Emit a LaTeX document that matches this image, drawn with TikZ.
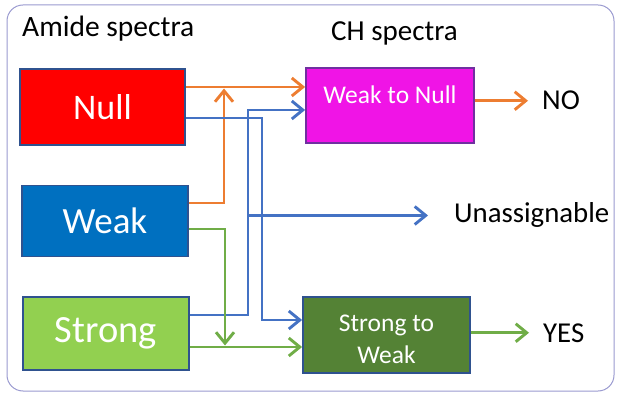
\documentclass[tikz,border=0pt]{standalone}
\usepackage{fontspec}
\setmainfont{Carlito}
\usetikzlibrary{arrows.meta}
\definecolor{nullred}{HTML}{FF0000}
\definecolor{weakblue}{HTML}{0070C0}
\definecolor{stronggreen}{HTML}{92D050}
\definecolor{wtnmagenta}{HTML}{F014E6}
\definecolor{stwgreen}{HTML}{548235}
\definecolor{boxedge}{HTML}{2F528F}
\definecolor{wtnedge}{HTML}{7030A0}
\definecolor{orangeln}{HTML}{ED7D31}
\definecolor{blueln}{HTML}{4472C4}
\definecolor{greenln}{HTML}{70AD47}
\definecolor{framecol}{HTML}{9A9AD0}
\tikzset{
	spectbox/.style={draw=#1, line width=1.8pt, text=white, inner sep=0pt},
	flow/.style={line width=2.9pt, -{Straight Barb[length=11pt,width=18pt]}},
	outcome/.style={anchor=base west, inner sep=0pt, font=\fontsize{28.8}{30}\selectfont},
}

\begin{document}
\begin{tikzpicture}[x=1pt,y=1pt]
				\useasboundingbox (0,0) rectangle (617,393);
				\draw[framecol, line width=1pt, rounded corners=16pt] (7,2) rectangle (614,388);
				
				\node[anchor=base west, inner sep=0pt, font=\fontsize{29.5}{30}\selectfont] (amide) at (22,356) {Amide spectra};
				\node[anchor=base west, inner sep=0pt, font=\fontsize{29}{30}\selectfont] (ch) at (331,352) {CH spectra};
				
				\node[spectbox=boxedge, fill=nullred, minimum width=165pt, minimum height=76pt, font=\fontsize{36}{40}\selectfont] (null) at (102.5,286) {Null};
				\node[spectbox=boxedge, fill=weakblue, minimum width=166pt, minimum height=71pt, font=\fontsize{37}{40}\selectfont] (weak) at (105,172) {Weak};
				\node[spectbox=boxedge, fill=stronggreen, minimum width=166pt, minimum height=73pt, font=\fontsize{38.5}{40}\selectfont] (strong) at (106,59.5) {Strong};
				
				\node[spectbox=wtnedge, fill=wtnmagenta, minimum width=168pt, minimum height=75pt, text height=17pt, text depth=20pt, font=\fontsize{25.5}{32}\selectfont] (wtn) at (390,287.5) {Weak to Null};
				\node[spectbox=boxedge, fill=stwgreen, minimum width=167pt, minimum height=76pt, align=center, text height=58pt, font=\fontsize{25.5}{32}\selectfont] (stw) at (386.5,58) {Strong to\\Weak};
				
				\node[outcome] (no) at (542,283) {NO};
				\node[outcome] (unas) at (454,170) {Unassignable};
				\node[outcome] (yes) at (543,51) {YES};
				
				\coordinate (ox) at (224,0);
				\coordinate (gx) at (225,0);
				\coordinate (bxa) at (248,0);
				\coordinate (bxb) at (262,0);
				
				\draw[orangeln, flow] ([yshift=20pt]null.east) -- ([yshift=20pt]null.east -| wtn.west);
				\draw[orangeln, flow, shorten >=1.5pt] ([yshift=18pt]weak.east) -| ([yshift=20pt]null.east -| ox);
				\draw[orangeln, flow, shorten >=14pt] (wtn.east |- no.west) -- (no.west);
				
				\draw[blueln, flow] ([yshift=-11pt]null.east) -| ([yshift=15pt]stw.west -| bxb) -- ([yshift=15pt]stw.west);
				\draw[blueln, flow] ([yshift=18.5pt]strong.east) -| ([yshift=-4.5pt]wtn.west -| bxa) -- ([yshift=-4.5pt]wtn.west);
				\draw[blueln, flow, shorten >=26pt] (bxa |- unas.west) -- (unas.west);
				
				\draw[greenln, flow, shorten >=1.5pt] ([yshift=-8pt]weak.east) -| ([yshift=-13.5pt]strong.east -| gx);
				\draw[greenln, flow] ([yshift=-13.5pt]strong.east) -- ([yshift=-13.5pt]strong.east -| stw.west);
				\draw[greenln, flow, shorten >=14pt] (stw.east |- yes.west) -- (yes.west);
\end{tikzpicture}
\end{document}
